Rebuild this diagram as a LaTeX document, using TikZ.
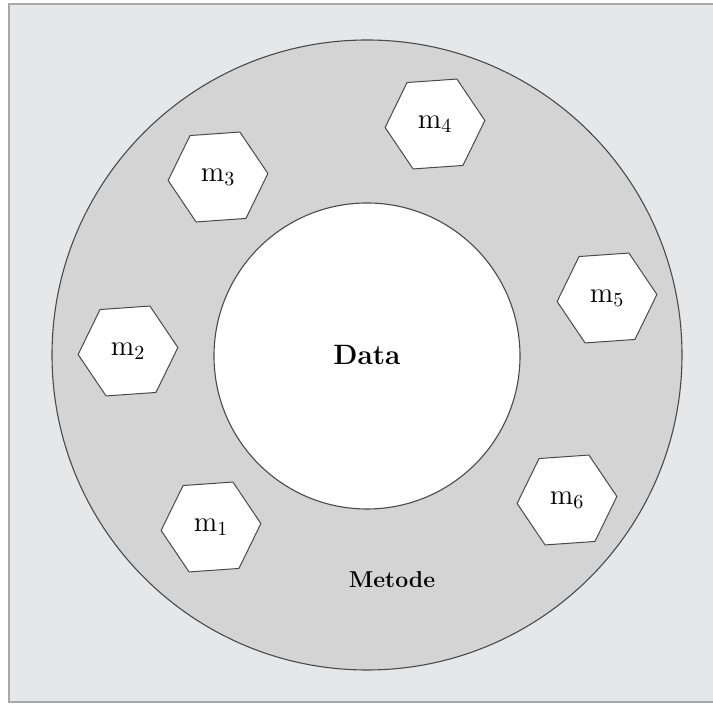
\documentclass[tikz,border=0pt]{standalone}
\usetikzlibrary{shapes.geometric}
\definecolor{bgcol}{HTML}{E6E7E9}
\definecolor{ringcol}{HTML}{D4D4D5}
\definecolor{linecol}{HTML}{4A4A4A}
\definecolor{framecol}{HTML}{A8A8A8}
\tikzset{
  hexbox/.style={regular polygon, regular polygon sides=6, minimum size=50pt,
    shape border rotate=4, draw=linecol, line width=0.5pt, fill=white, inner sep=0pt,
    font=\fontsize{14}{16}\selectfont},
  circline/.style={draw=linecol, line width=0.55pt}
}
\begin{document}
\begin{tikzpicture}[x=0.5pt,y=-0.5pt]
\useasboundingbox (0,0) rectangle (713,704);
\fill[white] (0,0) rectangle (713,704);
\draw[framecol, fill=bgcol, line width=0.6pt] (9,4) rectangle (716,702);
\path[circline, fill=ringcol] (367,355) circle (315);
\path[circline, fill=white] (367,356) circle (153);
\node (data) at (367,355) {\fontsize{14}{16}\selectfont\bfseries Data};
\node (metode) at (392,580) {\fontsize{11.5}{14}\selectfont\bfseries Metode};
\node[hexbox] (m1) at (211,527) {$\mathrm{m}_1$};
\node[hexbox] (m2) at (128,351) {$\mathrm{m}_2$};
\node[hexbox] (m3) at (218,177) {$\mathrm{m}_3$};
\node[hexbox] (m4) at (435,124) {$\mathrm{m}_4$};
\node[hexbox] (m5) at (607,298) {$\mathrm{m}_5$};
\node[hexbox] (m6) at (567,500) {$\mathrm{m}_6$};
\end{tikzpicture}
\end{document}
